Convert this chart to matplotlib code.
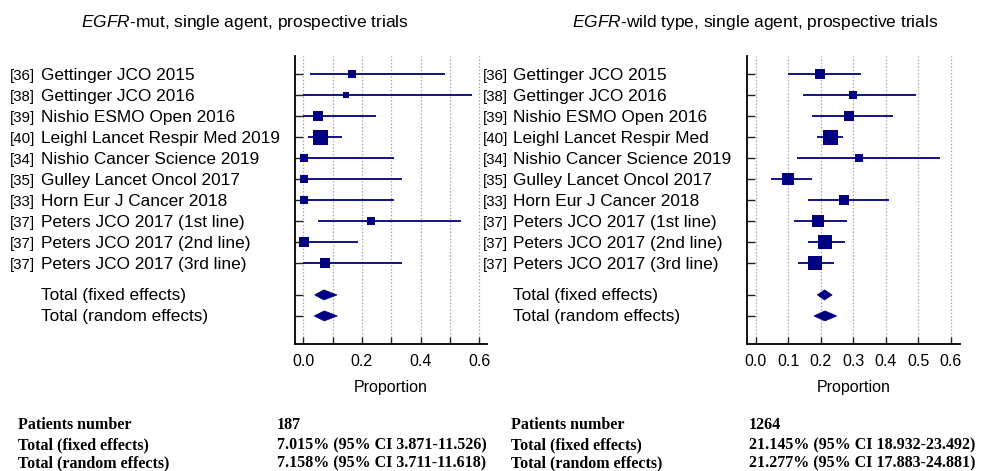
import matplotlib
matplotlib.use("Agg")
import matplotlib.pyplot as plt
import matplotlib.transforms as mtransforms
from matplotlib.patches import Polygon
import numpy as np

plt.rcParams['font.family'] = ['Liberation Sans', 'DejaVu Sans']
plt.rcParams['mathtext.fontset'] = 'custom'
plt.rcParams['mathtext.rm'] = 'Liberation Sans'
plt.rcParams['mathtext.it'] = 'Liberation Sans:italic'

# ---------------- data ----------------
refs_mut = ["[36]", "[38]", "[39]", "[40]", "[34]", "[35]", "[33]", "[37]", "[37]", "[37]"]
studies_mut = ["Gettinger JCO 2015", "Gettinger JCO 2016", "Nishio ESMO Open 2016",
               "Leighl Lancet Respir Med 2019", "Nishio Cancer Science 2019",
               "Gulley Lancet Oncol 2017", "Horn Eur J Cancer 2018",
               "Peters JCO 2017 (1st line)", "Peters JCO 2017 (2nd line)",
               "Peters JCO 2017 (3rd line)"]
est_mut = [0.167, 0.145, 0.051, 0.057, 0.002, 0.002, 0.002, 0.230, 0.002, 0.074]
lo_mut = [0.023, 0.000, 0.000, 0.016, 0.000, 0.000, 0.000, 0.051, 0.000, 0.000]
hi_mut = [0.483, 0.577, 0.249, 0.132, 0.309, 0.336, 0.309, 0.538, 0.186, 0.336]
weight_mut = [7.6, 4.3, 11.8, 26.6, 7.6, 5.8, 7.6, 7.6, 11.8, 9.6]

refs_wt = ["[36]", "[38]", "[39]", "[40]", "[34]", "[35]", "[33]", "[37]", "[37]", "[37]"]
studies_wt = ["Gettinger JCO 2015", "Gettinger JCO 2016", "Nishio ESMO Open 2016",
              "Leighl Lancet Respir Med", "Nishio Cancer Science 2019",
              "Gulley Lancet Oncol 2017", "Horn Eur J Cancer 2018",
              "Peters JCO 2017 (1st line)", "Peters JCO 2017 (2nd line)",
              "Peters JCO 2017 (3rd line)"]
est_wt = [0.198, 0.299, 0.287, 0.227, 0.316, 0.098, 0.271, 0.192, 0.213, 0.181]
lo_wt = [0.100, 0.146, 0.172, 0.189, 0.126, 0.047, 0.160, 0.119, 0.160, 0.129]
hi_wt = [0.323, 0.492, 0.421, 0.267, 0.566, 0.172, 0.410, 0.280, 0.274, 0.241]
weight_wt = [7.7, 5.0, 7.7, 17.4, 3.8, 11.2, 7.7, 11.2, 15.2, 13.1]

total_labels = ["Total (fixed effects)", "Total (random effects)"]
pooled_mut = [0.07015, 0.07158]
pooled_lo_mut = [0.03871, 0.03711]
pooled_hi_mut = [0.11526, 0.11618]
pooled_wt = [0.21145, 0.21277]
pooled_lo_wt = [0.18932, 0.17883]
pooled_hi_wt = [0.23492, 0.24881]

patients_mut = 187
patients_wt = 1264

xticks_major = [0.0, 0.2, 0.4, 0.6]
xticks_mut_labels = ["0.0", "0.2", "0.4", "0.6"]
xticks_wt = [0.0, 0.1, 0.2, 0.3, 0.4, 0.5, 0.6]
xticks_wt_labels = ["0.0", "0.1", "0.2", "0.3", "0.4", "0.5", "0.6"]
grid_x = [0.0, 0.1, 0.2, 0.3, 0.4, 0.5, 0.6]

# ---------------- figure ----------------
W, H = 982, 471
fig = plt.figure(figsize=(W / 100, H / 100), dpi=100)
NAVY = '#000080'


def px_ax(x0, x1, y0, y1):
    return fig.add_axes([x0 / W, 1 - y1 / H, (x1 - x0) / W, (y1 - y0) / H])


def forest(ax, est, lo, hi, weight, plo, phi, pest, xlim, xticks, xlabels, minor):
    n = len(est)
    ys = np.arange(n)
    ytot = [10.52, 11.52]
    ax.set_xlim(*xlim)
    ax.set_ylim(12.857, -0.857)
    for g in grid_x:
        ax.axvline(g, color='#a8a8a8', lw=0.9, ls=(0, (1.2, 1.5)), zorder=0)
    wmax = max(weight)
    for y, e, l, h, w in zip(ys, est, lo, hi, weight):
        ax.plot([l, h], [y, y], color=NAVY, lw=1.3, zorder=2, solid_capstyle='butt')
        side = 15 * np.sqrt(w / wmax)
        ax.plot([e], [y], marker='s', ms=side * 0.72, color=NAVY, mec=NAVY, mew=0, zorder=3)
    dh = 0.24
    for y, e, l, h in zip(ytot, pest, plo, phi):
        poly = Polygon([[l, y], [e, y - dh], [h, y], [e, y + dh]], closed=True,
                       facecolor=NAVY, edgecolor=NAVY, lw=0.5, zorder=3)
        ax.add_patch(poly)
    ax.spines['top'].set_visible(False)
    ax.spines['right'].set_visible(False)
    ax.spines['left'].set_linewidth(1.3)
    ax.spines['bottom'].set_linewidth(1.3)
    ax.set_yticks(list(ys) + ytot)
    ax.set_yticklabels([])
    ax.tick_params(axis='y', direction='in', length=6, width=1.0, color='#222222')
    ax.set_xticks(xticks)
    ax.set_xticklabels(xlabels, fontsize=11.5)
    if minor:
        ax.set_xticks(minor, minor=True)
    ax.tick_params(axis='x', which='both', direction='in', length=5, width=1.0, pad=7,
                   color='#222222')
    ax.set_xlabel("Proportion", fontsize=11.5, labelpad=8)
    return ys, ytot


axL = px_ax(295, 487, 56, 344)
ysL, ytotL = forest(axL, est_mut, lo_mut, hi_mut, weight_mut, pooled_lo_mut, pooled_hi_mut,
                    pooled_mut, (-0.0284, 0.627), xticks_major, xticks_mut_labels,
                    [0.1, 0.3, 0.5])
axR = px_ax(746.7, 960, 56, 344)
ysR, ytotR = forest(axR, est_wt, lo_wt, hi_wt, weight_wt, pooled_lo_wt, pooled_hi_wt,
                    pooled_wt, (-0.0277, 0.6277), xticks_wt, xticks_wt_labels, None)


def labels(ax, refs, studies, ys, ytot, xref, xname):
    tr = mtransforms.blended_transform_factory(fig.transFigure, ax.transData)
    for r, s, y in zip(refs, studies, ys):
        fig.text(xref / W, y + 0.08, r, transform=tr, fontsize=10.8, va='center', ha='left')
        fig.text(xname / W, y + 0.05, s, transform=tr, fontsize=12.4, va='center', ha='left')
    for s, y in zip(total_labels, ytot):
        fig.text(xname / W, y + 0.05, s, transform=tr, fontsize=12.4, va='center', ha='left')


labels(axL, refs_mut, studies_mut, ysL, ytotL, 10, 41)
labels(axR, refs_wt, studies_wt, ysR, ytotR, 483, 513)

fig.text(245 / W, 1 - 22 / H, r"$\mathit{EGFR}$-mut, single agent, prospective trials",
         fontsize=12.5, ha='center', va='center')
fig.text(755 / W, 1 - 22 / H, r"$\mathit{EGFR}$-wild type, single agent, prospective trials",
         fontsize=12.5, ha='center', va='center')

# ---------------- summary text ----------------
sfont = dict(family=['Liberation Serif', 'DejaVu Serif'], weight='bold', fontsize=11.5,
             va='baseline', ha='left')
rows_y = [429, 449, 467]
fig.text(18 / W, 1 - rows_y[0] / H, "Patients number", **sfont)
fig.text(18 / W, 1 - rows_y[1] / H, total_labels[0], **sfont)
fig.text(18 / W, 1 - rows_y[2] / H, total_labels[1], **sfont)
fig.text(277 / W, 1 - rows_y[0] / H, f"{patients_mut}", **sfont)
for i in range(2):
    fig.text(277 / W, 1 - rows_y[i + 1] / H,
             f"{pooled_mut[i]*100:.3f}% (95% CI {pooled_lo_mut[i]*100:.3f}-{pooled_hi_mut[i]*100:.3f})",
             **sfont)
fig.text(511 / W, 1 - rows_y[0] / H, "Patients number", **sfont)
fig.text(511 / W, 1 - rows_y[1] / H, total_labels[0], **sfont)
fig.text(511 / W, 1 - rows_y[2] / H, total_labels[1], **sfont)
fig.text(749 / W, 1 - rows_y[0] / H, f"{patients_wt}", **sfont)
for i in range(2):
    fig.text(749 / W, 1 - rows_y[i + 1] / H,
             f"{pooled_wt[i]*100:.3f}% (95% CI {pooled_lo_wt[i]*100:.3f}-{pooled_hi_wt[i]*100:.3f})",
             **sfont)

fig.savefig("out.png", dpi=100)
